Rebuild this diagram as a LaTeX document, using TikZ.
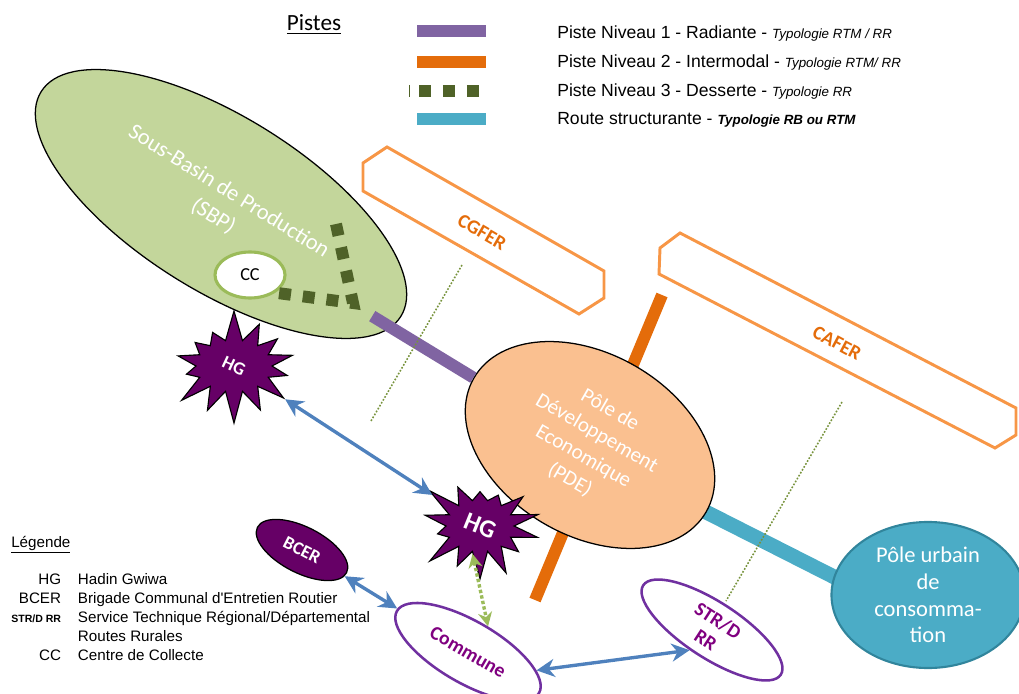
\documentclass[tikz,border=0pt]{standalone}
\usepackage{fontspec}
\setmainfont{Carlito}
\newfontfamily\arialfont{Liberation Sans}
\usepackage{graphicx}
\usepackage{tikz}
\usetikzlibrary{arrows.meta,shapes.geometric,shapes.symbols,backgrounds}

\definecolor{sbpgreen}{HTML}{C3D69B}
\definecolor{ccgreen}{HTML}{9BBB59}
\definecolor{pistethree}{HTML}{4F6228}
\definecolor{pisteone}{HTML}{8064A2}
\definecolor{pistetwo}{HTML}{E46C0A}
\definecolor{routeblue}{HTML}{4BACC6}
\definecolor{pdeorange}{HTML}{FAC090}
\definecolor{puborder}{HTML}{31859C}
\definecolor{boxorange}{HTML}{F79646}
\definecolor{hgpurple}{HTML}{660066}
\definecolor{actpurple}{HTML}{7030A0}
\definecolor{acttext}{HTML}{800080}
\definecolor{arrowblue}{HTML}{4F81BD}
\definecolor{zonegreen}{HTML}{77933C}

\newcommand{\typnote}[1]{{\itshape\fontsize{9.5}{11}\selectfont #1}}

\begin{document}
\begin{tikzpicture}[x=0.025cm,y=-0.025cm,
    pole/.style={ellipse,draw=black,line width=0.9pt,inner sep=0pt,align=center,text=white},
    acteur/.style={ellipse,draw=actpurple,line width=1.8pt,fill=white,inner sep=0pt,align=center,
                   text=acttext,font=\bfseries\fontsize{14}{16}\selectfont},
    hgstar/.style={starburst,starburst points=14,starburst point height=0.8cm,draw=black,
                   line width=0.8pt,fill=hgpurple,text=white,inner sep=0pt},
    cellule/.style={draw=boxorange,line width=2.1pt},
    celltext/.style={text=pistetwo,font=\bfseries\fontsize{14}{16}\selectfont},
    pisteun/.style={draw=pisteone,line width=8.5pt},
    pistedeux/.style={draw=pistetwo,line width=8.5pt},
    pistetrois/.style={draw=pistethree,line width=8.5pt,dash pattern=on 8.5pt off 8.5pt},
    route/.style={draw=routeblue,line width=10.5pt},
    limite/.style={draw=zonegreen,line width=1.1pt,dash pattern=on 1.2pt off 1.2pt},
    lien/.style={{Stealth[length=4.5mm,width=4.5mm]}-{Stealth[length=4.5mm,width=4.5mm]},
                 draw=arrowblue,line width=2.4pt},
    lienvert/.style={{Stealth[length=3.5mm,width=3.5mm]}-{Stealth[length=3.5mm,width=3.5mm]},
                 draw=ccgreen,line width=2.4pt,dash pattern=on 2.4pt off 1.6pt},
    legende/.style={font=\arialfont\fontsize{12.5}{14}\selectfont,anchor=base west,inner sep=0pt}
]
\useasboundingbox (0,0) rectangle (1019,694);

% legende des pistes
\node[font=\fontsize{16.5}{18}\selectfont,anchor=base,inner sep=0pt] (titre) at (314,31) {\underline{Pistes}};
\node[legende] (leg1) at (557,39) {Piste Niveau 1 - Radiante - \typnote{Typologie RTM / RR}};
\node[legende] (leg2) at (557,68) {Piste Niveau 2 - Intermodal - \typnote{Typologie RTM/ RR}};
\node[legende] (leg3) at (557,97) {Piste Niveau 3 - Desserte - \typnote{Typologie RR}};
\node[legende] (leg4) at (557,125) {Route structurante - {\bfseries\typnote{Typologie RB ou RTM}}};
\draw[pisteun,line width=9.2pt] (417,31) -- (486,31);
\draw[pistedeux,line width=9.2pt] (417,62) -- (486,62);
\draw[pistetrois,line width=9pt] (419,91) -- (486,91);
\draw[draw=pistethree,line width=0.6pt] (409,85) -- (409,97);
\draw[route,line width=9.2pt] (417,119) -- (486,119);

% poles
\node[pole,fill=sbpgreen,minimum width=10.6cm,minimum height=4.35cm,rotate=-32,
      font=\fontsize{16}{21}\selectfont] (sbp) at (221,204) {Sous-Basin de Production\\(SBP)};
\node[ellipse,draw=ccgreen,line width=2.2pt,fill=white,minimum width=1.75cm,minimum height=1.15cm,
      inner sep=0pt,font=\fontsize{13}{14}\selectfont] (cc) at (250,275) {CC};
\node[pole,fill=pdeorange,minimum width=6.7cm,minimum height=4.55cm,rotate=-30,
      font=\fontsize{15}{19}\selectfont] (pde) at (590,445) {Pôle de\\Développement\\Economique\\(PDE)};
\node[pole,fill=routeblue,draw=puborder,line width=1.5pt,minimum width=4.825cm,minimum height=3.65cm,
      font=\fontsize{16}{19}\selectfont] (pu) at (928,595) {Pôle urbain\\de\\consomma-\\tion};

\coordinate (p2n) at (662,295);
\coordinate (p2s) at (535,600);
\begin{pgfonlayer}{background}
\draw[pistedeux] (p2n) -- (p2s);
\draw[route,shorten <=-4pt,shorten >=-4pt] (pde.east) -- (pu.169);
\end{pgfonlayer}

\coordinate (p3a) at (336,224);
\coordinate (p3b) at (353,303);
\draw[pistetrois] (p3a) -- (p3b) -- (cc.-35);
\draw[pisteun,shorten >=-0.55cm] (pde.west) -- (sbp.-4);

% cellules
\draw[cellule] (387,147) -- (604,271) -- (604,298) -- (579,314) -- (363,191) -- (363,163) -- cycle;
\node[celltext,rotate=-30] (cgfer) at (482,232) {CGFER};
\draw[cellule] (680,233) -- (1016,408) -- (1016,435) -- (995,448) -- (659,274) -- (660,248) -- cycle;
\node[celltext,rotate=-28] (cafer) at (837,343) {CAFER};

\coordinate (z1a) at (462,265);
\coordinate (z1b) at (371,421);
\coordinate (z2a) at (842,402);
\coordinate (z2b) at (726,601);
\draw[limite] (z1a) -- (z1b);
\draw[limite] (z2a) -- (z2b);

% acteurs
\node[hgstar,minimum width=3.5cm,minimum height=2.9cm,random starburst=7,
      font=\bfseries\fontsize{13}{14}\selectfont] (hg1) at (234,366) {\rotatebox{-25}{HG}};
\node[hgstar,minimum width=3.3cm,minimum height=2.9cm,random starburst=23,
      font=\bfseries\fontsize{18}{20}\selectfont] (hg2) at (480,526) {\rotatebox{-22}{HG}};
\node[ellipse,draw=black,line width=0.9pt,fill=hgpurple,text=white,inner sep=0pt,
      minimum width=2.5cm,minimum height=1.15cm,rotate=-27,
      font=\bfseries\fontsize{13}{14}\selectfont] (bcer) at (302,550) {BCER};
\node[acteur,minimum width=4.1cm,minimum height=1.55cm,rotate=-30] (commune) at (468,652) {Commune};
\node[acteur,minimum width=4.1cm,minimum height=1.4cm,rotate=-33] (strd) at (712,630) {STR/D\\RR};

\draw[lien] (hg1) -- (hg2);
\draw[lien] (bcer) -- (commune);
\draw[lien] (commune.15) -- (strd.255);
\draw[lienvert] (hg2.255) -- (commune.82);

% legende
\node[font=\arialfont\fontsize{10.8}{13.5}\selectfont,anchor=north west,inner sep=0pt] (abbrev) at (11,534) {%
\begin{tabular}{@{}r@{\hspace{12pt}}l@{}}
\multicolumn{2}{@{}l}{\underline{Légende}}\\[12.5pt]
HG & Hadin Gwiwa\\
BCER & Brigade Communal d'Entretien Routier\\
{\bfseries\fontsize{7.5}{9}\selectfont STR/D RR} & Service Technique Régional/Départemental\\
 & Routes Rurales\\
CC & Centre de Collecte
\end{tabular}};
\end{tikzpicture}
\end{document}
